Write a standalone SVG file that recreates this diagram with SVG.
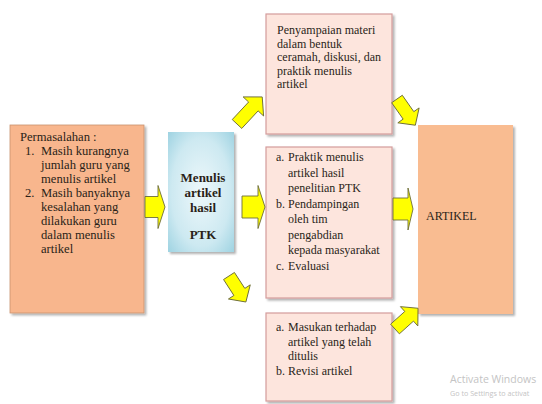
<svg xmlns="http://www.w3.org/2000/svg" width="542" height="404" viewBox="0 0 542 404">
<defs>
<radialGradient id="blueGrad" cx="0.5" cy="0.5" r="0.75">
<stop offset="0" stop-color="#EEF8FB"/>
<stop offset="0.6" stop-color="#CDE9F1"/>
<stop offset="1" stop-color="#96CFDF"/>
</radialGradient>
<filter id="shadow" x="-10%" y="-10%" width="130%" height="130%">
<feDropShadow dx="2" dy="2" stdDeviation="1.2" flood-color="#000" flood-opacity="0.3"/>
</filter>
</defs>
<style>
text { font-family: "Liberation Serif", "Times New Roman", serif; fill: #2a1f18; }
.t12 { font-size: 12px; }
.t13 { font-size: 12.6px; }
.bold { font-weight: bold; font-size: 13px; text-anchor: middle; }
.peach { fill: #F8B68D; stroke: #C9926F; stroke-width: 0.8; }
.artikel { fill: #F9BC91; }
.pink { fill: #FDE5DD; stroke: #D49C9C; stroke-width: 1.2; }
.arrow { fill: #FFFF00; stroke: #6E6E3A; stroke-width: 0.9; stroke-linejoin: miter; }
.wm { font-family: "Open Sans", "Noto Sans", sans-serif; fill: #C4C4C4; }
</style>

<g id="permasalahan">
<rect class="peach" x="10" y="125" width="134" height="188" filter="url(#shadow)"/>
<text class="t13" x="20" y="141">Permasalahan :</text>
<text class="t13" x="25" y="155">1.</text>
<text class="t13" x="41" y="155">Masih kurangnya</text>
<text class="t13" x="41" y="169">jumlah guru yang</text>
<text class="t13" x="41" y="183">menulis artikel</text>
<text class="t13" x="25" y="197">2.</text>
<text class="t13" x="41" y="197">Masih banyaknya</text>
<text class="t13" x="41" y="211">kesalahan yang</text>
<text class="t13" x="41" y="225">dilakukan guru</text>
<text class="t13" x="41" y="239">dalam menulis</text>
<text class="t13" x="41" y="253">artikel</text>
</g>

<g id="menulis">
<rect x="168" y="132" width="66" height="120" fill="url(#blueGrad)" filter="url(#shadow)"/>
<text class="bold" x="203" y="182">Menulis</text>
<text class="bold" x="203" y="197">artikel</text>
<text class="bold" x="203" y="212">hasil</text>
<text class="bold" x="203" y="239">PTK</text>
</g>

<g id="penyampaian">
<rect class="pink" x="266" y="14" width="126" height="120" filter="url(#shadow)"/>
<text class="t12" x="277" y="34">Penyampaian materi</text>
<text class="t12" x="277" y="47.6">dalam bentuk</text>
<text class="t12" x="277" y="61.2">ceramah, diskusi, dan</text>
<text class="t12" x="277" y="74.8">praktik menulis</text>
<text class="t12" x="277" y="88.4">artikel</text>
</g>

<g id="praktik">
<rect class="pink" x="266" y="147" width="126" height="151" filter="url(#shadow)"/>
<text class="t12" x="276" y="161">a.</text>
<text class="t12" x="288" y="161">Praktik menulis</text>
<text class="t12" x="288" y="176.5">artikel hasil</text>
<text class="t12" x="288" y="192">penelitian PTK</text>
<text class="t12" x="276" y="207.5">b.</text>
<text class="t12" x="288" y="207.5">Pendampingan</text>
<text class="t12" x="288" y="223">oleh tim</text>
<text class="t12" x="288" y="238.5">pengabdian</text>
<text class="t12" x="288" y="254">kepada masyarakat</text>
<text class="t12" x="276" y="269.5">c.</text>
<text class="t12" x="288" y="269.5">Evaluasi</text>
</g>

<g id="masukan">
<rect class="pink" x="266" y="313" width="126" height="88" filter="url(#shadow)"/>
<text class="t12" x="276" y="331">a.</text>
<text class="t12" x="288" y="331">Masukan terhadap</text>
<text class="t12" x="288" y="345.6">artikel yang telah</text>
<text class="t12" x="288" y="360.2">ditulis</text>
<text class="t12" x="276" y="374.8">b.</text>
<text class="t12" x="288" y="374.8">Revisi artikel</text>
</g>

<g id="artikel">
<rect class="artikel" x="418" y="125" width="95" height="189" filter="url(#shadow)"/>
<text class="t12" x="426" y="220">ARTIKEL</text>
</g>

<g id="connectors">
<path class="arrow" transform="translate(145,207)" d="M0,-10.5 H13 V-21.5 L20,0 L13,21.5 V10.5 H0 Z"/>
<path class="arrow" transform="translate(242,207)" d="M0,-11 H16 V-21.5 L23,0 L16,21.5 V11 H0 Z"/>
<path class="arrow" transform="translate(393,209)" d="M0,-11 H15 V-21 L20,0 L15,21 V11 H0 Z"/>
<path class="arrow" transform="translate(237,124) rotate(-47)" d="M0,-6.5 H24 V-14 L37,0 L24,14 V6.5 H0 Z"/>
<path class="arrow" transform="translate(229,276) rotate(57)" d="M0,-6.5 H19 V-13 L31,0 L19,13 V6.5 H0 Z"/>
<path class="arrow" transform="translate(397,99) rotate(55)" d="M0,-6.5 H20 V-13 L32,0 L20,13 V6.5 H0 Z"/>
<path class="arrow" transform="translate(395,329) rotate(-42)" d="M0,-6.5 H19 V-13 L31,0 L19,13 V6.5 H0 Z"/>
</g>

<g id="watermark">
<text class="wm" x="450" y="383" font-size="10.5">Activate Windows</text>
<text class="wm" x="450" y="396" font-size="7.2">Go to Settings to activat</text>
</g>
</svg>
